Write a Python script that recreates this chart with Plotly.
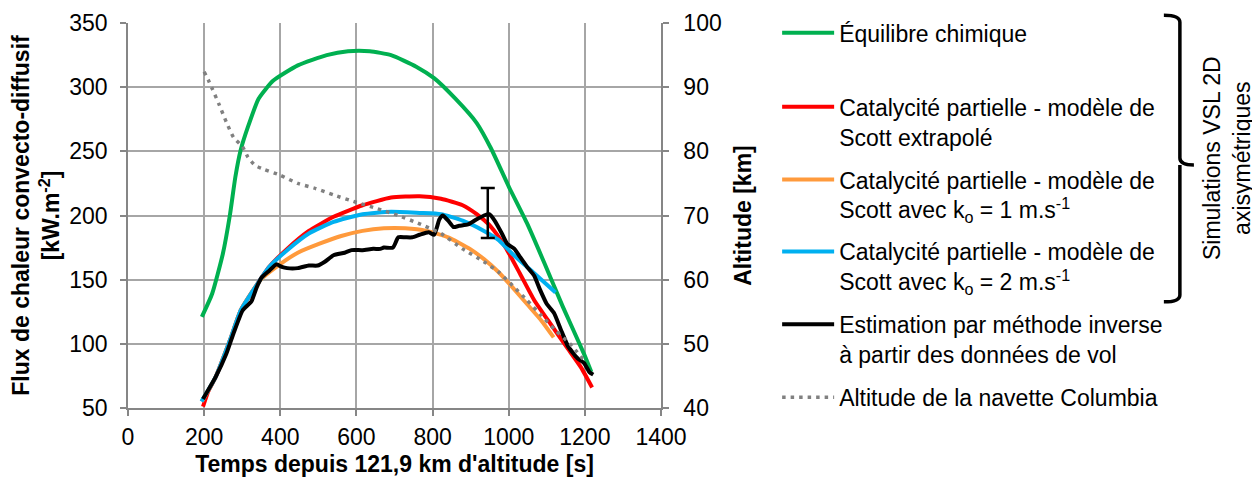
import plotly.graph_objects as go

# ---------------- data ----------------
eq_t = [194, 221, 249, 268, 282, 296, 315, 343, 381, 446, 522, 578, 635, 691, 757, 804, 860, 916, 954, 1001, 1048, 1095, 1142, 1198, 1217]
eq_q = [121, 139, 170, 201, 230, 251, 269, 291, 305, 317, 325, 328, 328, 325, 316, 307, 291, 272, 252, 222, 194, 162, 129, 92, 78]

red_t = [197, 211, 230, 268, 296, 334, 371, 418, 475, 540, 616, 691, 766, 822, 879, 916, 954, 992, 1029, 1067, 1104, 1151, 1189, 1219]
red_q = [51, 63, 74, 103, 126, 144, 160, 174, 188, 199, 208, 214, 215, 213, 208, 201, 191, 175, 155, 134, 118, 98, 82, 66]

org_t = [194, 230, 268, 296, 334, 352, 399, 446, 503, 560, 616, 672, 728, 785, 841, 898, 935, 973, 1010, 1048, 1086, 1118]
org_q = [55, 74, 103, 126, 144, 151, 162, 171, 178, 184, 188, 190, 190, 188, 183, 174, 166, 156, 144, 131, 118, 105]

blu_t = [193, 230, 268, 296, 334, 371, 418, 475, 540, 616, 691, 766, 822, 879, 935, 973, 1010, 1067, 1123]
blu_q = [55, 74, 103, 126, 144, 160, 173, 186, 195, 201, 203, 202, 201, 196, 188, 181, 170, 155, 140]

inv_t = [197, 230, 258, 277, 301, 324, 338, 352, 371, 390, 404, 418, 446, 475, 498, 517, 540, 569, 587, 616, 644, 663, 672, 696,
         710, 728, 747, 766, 790, 804, 818, 827, 841, 855, 870, 893, 916, 935, 949, 963, 982, 996, 1015, 1029, 1048, 1067,
         1081, 1100, 1119, 1137, 1156, 1180, 1198, 1212, 1222]
inv_q = [57, 74, 92, 108, 126, 133, 144, 152, 157, 162, 160, 159, 159, 161, 161, 164, 169, 171, 173, 173, 174, 174, 175, 175,
         183, 183, 183, 185, 187, 185, 197, 200, 196, 191, 192, 193, 197, 200, 201, 196, 186, 178, 174, 168, 160, 153,
         143, 131, 124, 111, 98, 89, 85, 78, 76]

err_t = [945]
err_q = [202]
err_half = [19.5]

alt_t = [200, 211, 221, 240, 258, 277, 301, 315, 334, 357, 399, 446, 493, 540, 597, 653, 710, 766, 822, 879, 935, 973,
         1010, 1048, 1086, 1123, 1161, 1198]
alt_km = [92.4, 91.1, 89.8, 87.2, 84.6, 82.2, 80.7, 79.1, 77.8, 77.2, 76.3, 75.0, 74.2, 73.2, 72.1, 71.1, 70.0, 68.7,
          67.2, 64.8, 62.8, 61.2, 59.1, 56.8, 54.4, 52.1, 50.0, 47.4]

names = [
    "Équilibre chimique",
    "Catalycité partielle - modèle de<br>Scott extrapolé",
    "Catalycité partielle - modèle de<br>Scott avec k<sub>o</sub> = 1 m.s<sup>-1</sup>",
    "Catalycité partielle - modèle de<br>Scott avec k<sub>o</sub> = 2 m.s<sup>-1</sup>",
    "Estimation par méthode inverse<br>à partir des données de vol",
    "Altitude de la navette Columbia",
]
colors = ["#00b050", "#ff0000", "#ff9a3c", "#00b0f0", "#000000", "#808080"]

x_title = "Temps depuis 121,9 km d'altitude [s]"
y_title = "Flux de chaleur convecto-diffusif<br>[kW.m<sup>-2</sup>]"
y2_title = "Altitude [km]"
bracket_text = "Simulations VSL 2D<br>axisymétriques"

# ---------------- layout geometry ----------------
# the page adds an 8px body margin, so the figure is 8px smaller and all
# reference pixel positions are shifted by OFF
OFF = 8
W, H = 1260 - OFF, 484 - OFF
PL, PR, PT, PB = 128.3 - OFF, 660.7 - OFF, 22.7 - OFF, 408.3 - OFF


def px(p):
    return (p - OFF - PL) / (PR - PL)


def py(p):
    return (PB - (p - OFF)) / (PB - PT)


FONT = "Liberation Sans, Arial, sans-serif"
fig = go.Figure()

series = [(eq_t, eq_q), (red_t, red_q), (org_t, org_q), (blu_t, blu_q), (inv_t, inv_q)]
for i, (t, q) in enumerate(series):
    fig.add_trace(go.Scatter(x=t, y=q, mode="lines", name=names[i],
                             line=dict(color=colors[i], width=4, shape="spline", smoothing=0.5),
                             legend="legend" if i == 0 else f"legend{i+1}"))

fig.add_trace(go.Scatter(x=alt_t, y=alt_km, mode="lines", name=names[5], yaxis="y2",
                         line=dict(color=colors[5], width=3.5, dash="3.5px,5px", shape="spline", smoothing=0.5),
                         legend="legend6"))

fig.add_trace(go.Scatter(x=err_t, y=err_q, mode="markers", showlegend=False,
                         marker=dict(size=1, color="black"),
                         error_y=dict(type="data", array=err_half, color="black", thickness=2.5, width=7)))

# legends, one per entry, placed at the reference positions
leg_y = [33, 107, 180, 252, 325, 398]
for i, yy in enumerate(leg_y):
    key = "legend" if i == 0 else f"legend{i+1}"
    fig.update_layout(**{key: dict(x=px(776.7), y=py(yy - 22), xanchor="left", yanchor="top",
                                   valign="top", bgcolor="rgba(0,0,0,0)", borderwidth=0, itemwidth=52,
                                   font=dict(family=FONT, size=23, color="black"))})

axis_common = dict(showline=True, linecolor="#868686", linewidth=1.5, ticks="outside", ticklen=6,
                   tickcolor="#868686", tickwidth=1.5, zeroline=False,
                   tickfont=dict(family=FONT, size=23, color="black"))

fig.update_layout(
    width=W, height=H,
    margin=dict(l=PL, r=W - PR, t=PT, b=H - PB, autoexpand=False),
    paper_bgcolor="white", plot_bgcolor="white",
    font=dict(family=FONT, size=23, color="black"),
    xaxis=dict(range=[0, 1400], dtick=200, tick0=0, showgrid=True, gridcolor="#a6a6a6", gridwidth=1.5,
               title=dict(text=f"<b>{x_title}</b>", font=dict(family=FONT, size=23), standoff=7),
               ticklabelstandoff=2, **axis_common),
    yaxis=dict(range=[50, 350], dtick=50, tick0=50, showgrid=True, gridcolor="#a6a6a6", gridwidth=1.5,
               title=dict(text=f"<b>{y_title}</b>", font=dict(family=FONT, size=23), standoff=3),
               ticklabelstandoff=8, **axis_common),
    yaxis2=dict(range=[40, 100], dtick=10, tick0=40, overlaying="y", side="right", showgrid=False,
                title=dict(text=f"<b>{y2_title}</b>", font=dict(family=FONT, size=23), standoff=14),
                ticklabelstandoff=10, **axis_common),
)

# bracket grouping the simulation entries
x0, x1, x2 = px(1163), px(1179), px(1193)
path = (f"M{x0},{py(15)} Q{x1},{py(15)} {x1},{py(22)} L{x1},{py(158)} Q{x1},{py(165)} {x2},{py(165)} "
        f"M{x1},{py(165)} L{x1},{py(295)} Q{x1},{py(302)} {x0},{py(302)}")
fig.add_shape(type="path", xref="paper", yref="paper", path=path, line=dict(color="black", width=3.5))

fig.add_annotation(xref="paper", yref="paper", x=px(1226), y=py(158), text=bracket_text, showarrow=False,
                   textangle=-90, font=dict(family=FONT, size=23, color="black"), xanchor="center", yanchor="middle")

fig.write_html("out.html")
